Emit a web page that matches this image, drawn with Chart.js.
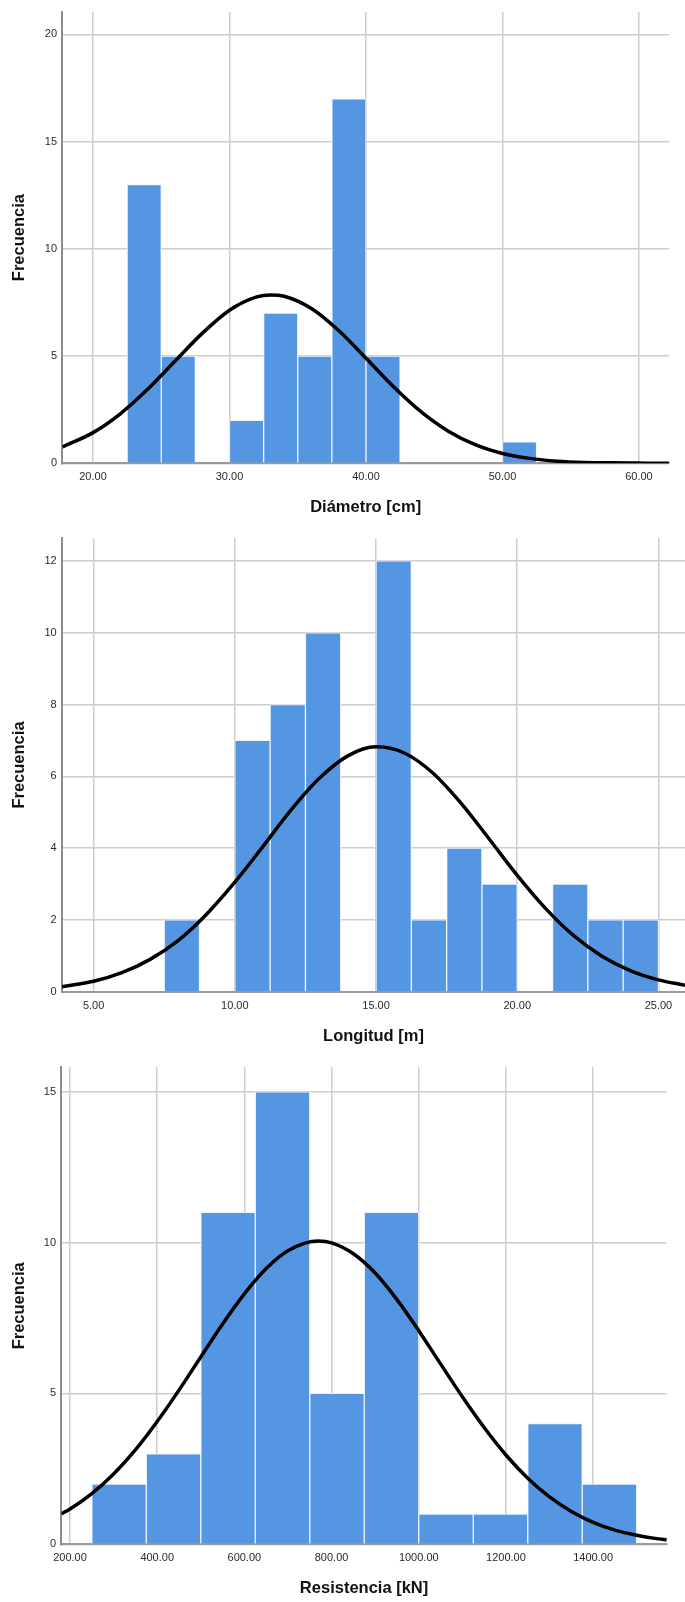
<!DOCTYPE html>
<html><head><meta charset="utf-8">
<script src="https://cdn.jsdelivr.net/npm/chart.js@4.4.1/dist/chart.umd.min.js"></script>
<style>
html,body{margin:0;padding:0;background:#fff;}
body{width:685px;height:1602px;position:relative;overflow:hidden;}
canvas{position:absolute;left:0;}
</style></head><body>
<canvas id="c1" width="685" height="520" style="top:0px"></canvas>
<canvas id="c2" width="685" height="530" style="top:520px"></canvas>
<canvas id="c3" width="685" height="552" style="top:1050px"></canvas>
<script>
// ---- Chart 1: Diámetro [cm] ----
const diamBinCenters = [23.75, 26.25, 31.25, 33.75, 36.25, 38.75, 41.25, 51.25];
const diamCounts     = [13, 5, 2, 7, 5, 17, 5, 1];
const diamCurveX     = [17.75, 20, 22, 24, 26, 28, 30, 32, 33, 34, 36, 38, 40, 42, 44, 46, 48, 50, 52, 54, 56, 58, 60, 62.2];
const diamCurveY     = [0.76, 1.43, 2.31, 3.45, 4.76, 6.06, 7.14, 7.76, 7.85, 7.79, 7.22, 6.19, 4.90, 3.58, 2.42, 1.51, 0.87, 0.46, 0.23, 0.10, 0.04, 0.02, 0.01, 0.00];
const diamXTicks     = [20, 30, 40, 50, 60];
const diamYTicks     = [0, 5, 10, 15, 20];

// ---- Chart 2: Longitud [m] ----
const longBinCenters = [8.125, 10.625, 11.875, 13.125, 15.625, 16.875, 18.125, 19.375, 21.875, 23.125, 24.375];
const longCounts     = [2, 7, 8, 10, 12, 2, 4, 3, 3, 2, 2];
const longCurveX     = [3.88, 5, 6, 7, 8, 9, 10, 11, 12, 13, 14, 15, 16, 17, 18, 19, 20, 21, 22, 23, 24, 25, 25.94];
const longCurveY     = [0.14, 0.29, 0.53, 0.90, 1.43, 2.16, 3.05, 4.05, 5.07, 5.95, 6.57, 6.82, 6.65, 6.10, 5.26, 4.26, 3.24, 2.32, 1.56, 0.99, 0.59, 0.33, 0.18];
const longXTicks     = [5, 10, 15, 20, 25];
const longYTicks     = [0, 2, 4, 6, 8, 10, 12];

// ---- Chart 3: Resistencia [kN] ----
const resBinCenters  = [312.5, 437.5, 562.5, 687.5, 812.5, 937.5, 1062.5, 1187.5, 1312.5, 1437.5];
const resCounts      = [2, 3, 11, 15, 5, 11, 1, 1, 4, 2];
const resCurveX      = [180, 200, 250, 300, 350, 400, 450, 500, 550, 600, 650, 700, 770, 800, 850, 900, 950, 1000, 1050, 1100, 1150, 1200, 1250, 1300, 1350, 1400, 1450, 1500, 1550, 1569];
const resCurveY      = [1.01, 1.17, 1.68, 2.33, 3.13, 4.07, 5.11, 6.21, 7.30, 8.30, 9.14, 9.73, 10.05, 9.99, 9.63, 8.99, 8.11, 7.08, 5.98, 4.89, 3.87, 2.96, 2.19, 1.57, 1.09, 0.73, 0.47, 0.30, 0.18, 0.15];
const resXTicks      = [200, 400, 600, 800, 1000, 1200, 1400];
const resYTicks      = [0, 5, 10, 15];

const FAMILY = '"Liberation Sans", Arial, Helvetica, sans-serif';

function makeHist(id, d, L) {
  const bars = d.centers.map((c, i) => ({x: c, y: d.counts[i]}));
  const curve = d.curveX.map((x, i) => ({x: x, y: d.curveY[i]}));
  return new Chart(document.getElementById(id), {
    type: 'bar',
    data: {
      datasets: [
        {type: 'line', data: curve, borderColor: '#000', borderWidth: 3.5, pointRadius: 0,
         cubicInterpolationMode: 'monotone', fill: false, order: 0},
        {type: 'bar', data: bars, backgroundColor: '#5596e3', borderColor: '#eef4fc', borderWidth: 1,
         borderSkipped: 'start', barPercentage: 1, categoryPercentage: 1, order: 1}
      ]
    },
    options: {
      responsive: false, animation: false, devicePixelRatio: 1,
      layout: {padding: {top: L.top, right: L.right, bottom: 0, left: 0}},
      plugins: {legend: {display: false}, tooltip: {enabled: false}},
      scales: {
        x: {
          type: 'linear', min: d.xMin, max: d.xMax, offset: false,
          grid: {offset: false, color: '#cdcdcd', lineWidth: 1.5, drawTicks: false},
          border: {color: '#9a9a9a', width: 2},
          ticks: {font: {family: FAMILY, size: 11}, color: '#2b2b2b', padding: L.tickPad,
                  autoSkip: false, maxRotation: 0, callback: v => Number(v).toFixed(2)},
          afterBuildTicks: s => { s.ticks = d.xTicks.map(v => ({value: v})); },
          afterFit: s => { s.height = L.xH; },
          title: {display: true, text: d.xTitle, color: '#111',
                  font: {family: FAMILY, size: 16.5, weight: 'bold'}, padding: {top: 0, bottom: L.titlePad}}
        },
        y: {
          min: 0, max: d.yMax,
          grid: {color: '#cdcdcd', lineWidth: 1.5, drawTicks: false},
          border: {color: '#8c8c8c', width: 2},
          ticks: {font: {family: FAMILY, size: 11}, color: '#2b2b2b', padding: 5.3, autoSkip: false,
                  callback: v => String(v)},
          afterBuildTicks: s => { s.ticks = d.yTicks.map(v => ({value: v})); },
          afterFit: s => { s.width = L.yW; },
          title: {display: true, text: 'Frecuencia', color: '#111',
                  font: {family: FAMILY, size: 16.5, weight: 'bold'}, padding: {top: 9.4, bottom: 0}}
        }
      }
    }
  });
}

makeHist('c1', {centers: diamBinCenters, counts: diamCounts, curveX: diamCurveX, curveY: diamCurveY,
  xTicks: diamXTicks, yTicks: diamYTicks, xMin: 17.75, xMax: 62.2, yMax: 21.05, xTitle: 'Diámetro [cm]'},
  {top: 9.3, right: 16, xH: 56.7, tickPad: 7, titlePad: 3.1, yW: 62.3});

makeHist('c2', {centers: longBinCenters, counts: longCounts, curveX: longCurveX, curveY: longCurveY,
  xTicks: longXTicks, yTicks: longYTicks, xMin: 3.88, xMax: 25.94, yMax: 12.63, xTitle: 'Longitud [m]'},
  {top: 18.3, right: 0, xH: 58.3, tickPad: 7.5, titlePad: 3.4, yW: 62});

makeHist('c3', {centers: resBinCenters, counts: resCounts, curveX: resCurveX, curveY: resCurveY,
  xTicks: resXTicks, yTicks: resYTicks, xMin: 180, xMax: 1569, yMax: 15.81, xTitle: 'Resistencia [kN]'},
  {top: 17.3, right: 18.2, xH: 57.7, tickPad: 7.5, titlePad: 3.8, yW: 61.3});
</script>
</body></html>
